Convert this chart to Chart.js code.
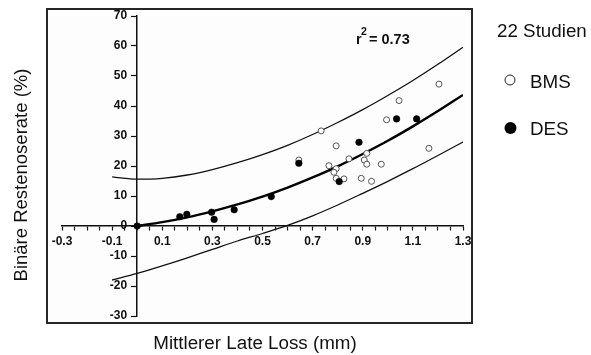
<!DOCTYPE html>
<html>
<head>
<meta charset="utf-8">
<script src="https://cdn.jsdelivr.net/npm/chart.js@4/dist/chart.umd.min.js"></script>
<style>
  html, body { margin: 0; padding: 0; background: #ffffff; }
  #wrap { width: 591px; height: 355px; }
</style>
</head>
<body>
<div id="wrap"><canvas id="c" width="591" height="355"></canvas></div>
<script>
// ---- data ----
const bmsX = [0.645, 0.734, 0.794, 0.995, 1.045, 1.204, 1.164, 0.916, 0.845, 0.906, 0.916, 0.974, 0.765, 0.794, 0.785, 0.794, 0.825, 0.894, 0.935];
const bmsY = [22.0, 31.7, 26.7, 35.4, 41.8, 47.3, 25.9, 24.2, 22.4, 22.0, 20.6, 20.6, 20.1, 19.1, 17.9, 15.9, 15.7, 15.9, 14.9];

const desX = [0.0, 0.17, 0.198, 0.297, 0.307, 0.387, 0.535, 0.645, 0.806, 0.885, 1.035, 1.115];
const desY = [0.0, 3.1, 3.9, 4.6, 2.2, 5.4, 9.8, 20.9, 14.8, 27.9, 35.7, 35.7];

const fitX = [0.0, 0.1, 0.2, 0.3, 0.4, 0.5, 0.6, 0.7, 0.8, 0.9, 1.0, 1.1, 1.2, 1.3];
const fitY = [0.0, 1.3, 2.9, 4.9, 7.2, 9.8, 12.8, 16.2, 19.9, 24.0, 28.4, 33.2, 38.3, 43.7];

const bandX  = [-0.1, 0.0, 0.1, 0.2, 0.3, 0.4, 0.5, 0.6, 0.7, 0.8, 0.9, 1.0, 1.1, 1.2, 1.3];
const upperY = [16.4, 15.6, 15.9, 17.0, 18.8, 21.1, 23.8, 26.9, 30.5, 34.5, 38.8, 43.5, 48.5, 53.9, 59.6];
const lowerY = [-18.0, -15.8, -13.3, -10.6, -7.8, -5.0, -2.5, 0.2, 3.4, 7.0, 10.9, 14.9, 19.1, 23.5, 28.0];

const xTickLabels = ['-0.3', '-0.1', '0.1', '0.3', '0.5', '0.7', '0.9', '1.1', '1.3'];
const yTickLabels = ['-30', '-20', '-10', '0', '10', '20', '30', '40', '50', '60', '70'];

const xTitle = 'Mittlerer Late Loss (mm)';
const yTitle = 'Binäre Restenoserate (%)';
const legendTitle = '22 Studien';
const seriesNames = ['BMS', 'DES'];
const r2Value = '0.73';

// ---- helpers ----
const pts = (xs, ys) => xs.map((x, i) => ({ x: x, y: ys[i] }));
const FONT = "'Liberation Sans', Arial, sans-serif";
// gap between y tick labels and the centred y axis (figure space + space)
const Y_GAP = '\u2007 ';

const decorPlugin = {
  id: 'decor',
  beforeDraw(chart) {
    const ctx = chart.ctx;
    ctx.save();
    ctx.fillStyle = '#ffffff';
    ctx.fillRect(0, 0, chart.width, chart.height);
    ctx.fillStyle = '#fdfdfd';
    ctx.fillRect(47, 9, 425, 314);
    ctx.restore();
  },
  afterDraw(chart) {
    const ctx = chart.ctx;
    ctx.save();
    // frame
    ctx.strokeStyle = '#262626';
    ctx.lineWidth = 2;
    ctx.strokeRect(47, 9, 425, 314);

    // axis titles
    ctx.fillStyle = '#111';
    ctx.font = '18.8px ' + FONT;
    ctx.textAlign = 'center';
    ctx.textBaseline = 'alphabetic';
    ctx.fillText(xTitle, 255, 349);
    ctx.save();
    ctx.font = '18.5px ' + FONT;
    ctx.translate(27, 175);
    ctx.rotate(-Math.PI / 2);
    ctx.fillText(yTitle, 0, 0);
    ctx.restore();

    // r^2 label
    ctx.textAlign = 'left';
    ctx.font = 'bold 14.5px ' + FONT;
    ctx.fillText('r', 356, 44);
    ctx.font = 'bold 10.5px ' + FONT;
    ctx.fillText('2', 361, 35);
    ctx.font = 'bold 14.5px ' + FONT;
    ctx.fillText('= ' + r2Value, 369, 44);

    // legend
    ctx.font = '18.8px ' + FONT;
    ctx.fillStyle = '#111';
    ctx.fillText(legendTitle, 497, 37);
    ctx.beginPath();
    ctx.arc(510, 80, 5, 0, Math.PI * 2);
    ctx.fillStyle = '#ffffff';
    ctx.fill();
    ctx.lineWidth = 1;
    ctx.strokeStyle = '#222';
    ctx.stroke();
    ctx.fillStyle = '#111';
    ctx.fillText(seriesNames[0], 530, 88);
    ctx.beginPath();
    ctx.arc(510.5, 128, 6, 0, Math.PI * 2);
    ctx.fillStyle = '#000';
    ctx.fill();
    ctx.fillStyle = '#111';
    ctx.fillText(seriesNames[1], 530, 135);
    ctx.restore();
  }
};

new Chart(document.getElementById('c'), {
  data: {
    datasets: [
      {
        type: 'scatter', label: seriesNames[1], data: pts(desX, desY),
        pointStyle: 'circle', pointRadius: 3.3, pointBackgroundColor: '#000', pointBorderColor: '#000', pointBorderWidth: 0.5
      },
      {
        type: 'scatter', label: seriesNames[0], data: pts(bmsX, bmsY),
        pointStyle: 'circle', pointRadius: 3, pointBackgroundColor: '#fff', pointBorderColor: '#555', pointBorderWidth: 1
      },
      {
        type: 'line', label: 'fit', data: pts(fitX, fitY),
        borderColor: '#000', borderWidth: 2.4, pointRadius: 0, fill: false, cubicInterpolationMode: 'monotone'
      },
      {
        type: 'line', label: 'upper', data: pts(bandX, upperY),
        borderColor: '#111', borderWidth: 1.3, pointRadius: 0, fill: false, cubicInterpolationMode: 'monotone'
      },
      {
        type: 'line', label: 'lower', data: pts(bandX, lowerY),
        borderColor: '#111', borderWidth: 1.3, pointRadius: 0, fill: false, cubicInterpolationMode: 'monotone'
      }
    ]
  },
  options: {
    responsive: false,
    animation: false,
    devicePixelRatio: 1,
    layout: { padding: { left: 62, right: 128, top: 16, bottom: 39 } },
    plugins: { legend: { display: false }, tooltip: { enabled: false } },
    scales: {
      x: {
        type: 'linear',
        position: { y: 0 },
        min: -0.3, max: 1.3,
        afterFit(scale) { scale.height = 0; },
        ticks: {
          stepSize: 0.05, autoSkip: false, maxRotation: 0, minRotation: 0,
          padding: 4, color: '#111',
          font: { family: FONT, size: 12, weight: 'bold' },
          callback: (v, i) => (i % 4 === 0 ? xTickLabels[i / 4] : '')
        },
        grid: { drawOnChartArea: false, drawTicks: true, tickLength: 4, color: '#111', tickWidth: 1.2 },
        border: { display: true, color: '#111', width: 1.5 }
      },
      y: {
        type: 'linear',
        position: { x: 0 },
        min: -30, max: 70,
        afterFit(scale) { scale.width = 0; },
        ticks: {
          stepSize: 10, autoSkip: false, padding: 4, color: '#111',
          font: { family: FONT, size: 12, weight: 'bold' },
          callback: (v, i) => yTickLabels[i] + Y_GAP
        },
        grid: { drawOnChartArea: false, drawTicks: true, tickLength: 5, color: '#111', tickWidth: 1.2 },
        border: { display: true, color: '#111', width: 1.5 }
      }
    }
  },
  plugins: [decorPlugin]
});
</script>
</body>
</html>
